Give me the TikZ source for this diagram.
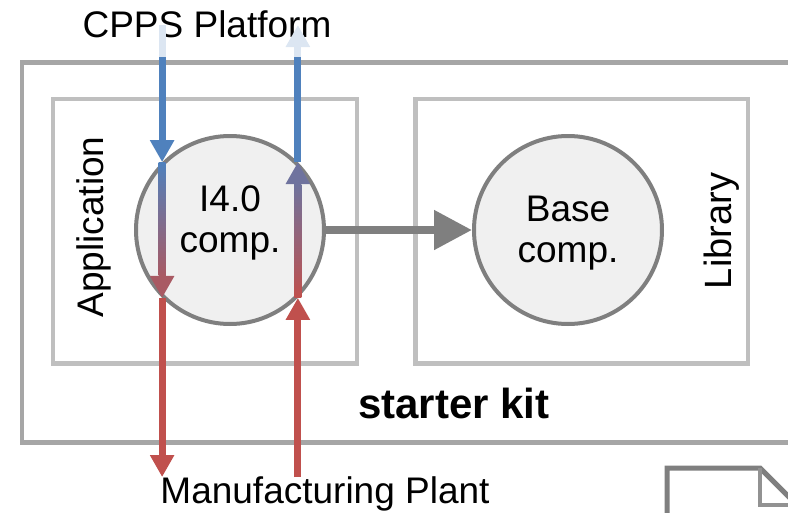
\documentclass[tikz,border=0pt]{standalone}
\usepackage{fontspec}
\setmainfont{Liberation Sans}
\usetikzlibrary{positioning,arrows.meta}
\definecolor{flowblue}{HTML}{4F81BD}
\definecolor{flowred}{HTML}{C0504D}
\definecolor{flowfade}{HTML}{DCE6F2}
\definecolor{kitgray}{HTML}{A6A6A6}
\definecolor{boxgray}{HTML}{BFBFBF}
\definecolor{compgray}{HTML}{7F7F7F}
\definecolor{compfill}{HTML}{F0F0F0}
\colorlet{flowmixb}{flowblue!72!flowred}
\colorlet{flowmixr}{flowred!80!flowblue}
\tikzset{
kitbox/.style={rectangle, draw=kitgray, line width=4.5pt, inner sep=0pt, outer sep=0pt},
partbox/.style={rectangle, draw=boxgray, line width=4.5pt, inner sep=0pt, outer sep=0pt},
comp/.style={circle, draw=compgray, fill=compfill, line width=4pt, minimum size=188pt, inner sep=0pt},
lbl/.style={font=\fontsize{37}{41}\selectfont, inner sep=0pt},
flow/.style={line width=7pt},
flowtip/.style={-{Triangle[length=22pt,width=23pt]}},
link/.style={draw=compgray, line width=8pt, -{Triangle[length=38pt,width=38pt]}},
}

\begin{document}
\begin{tikzpicture}
    [x=1pt, y=-1pt]

    \useasboundingbox (0,0) rectangle (788,512);
    \clip (0,0) rectangle (788,512);

    \node [kitbox, minimum width=800pt, minimum height=380pt, anchor=north west] (kit) at (22,62.5) {};
    \node [partbox, minimum width=304pt, minimum height=264.5pt, anchor=north west] (app) at (53,99) {};
    \node [partbox, minimum width=332.5pt, minimum height=264.5pt, anchor=north west] (lib) at (415.5,99) {};

    \node [comp] (i4) at (230,230) {};
    \node [comp] (base) [right=146pt of i4] {};

    \node [lbl, align=center] (i4lbl) at ([yshift=7pt]i4.center) {I4.0\\comp.};
    \node [lbl, align=center] (baselbl) at ([yshift=-3.5pt]base.center) {Base\\comp.};
    \node [lbl, rotate=90, anchor=base] (applbl) at (103,227) {Application};
    \node [lbl, font=\fontsize{38}{42}\selectfont, rotate=90, anchor=base] (liblbl) at (731,231) {Library};
    \node [lbl, font=\fontsize{42}{46}\selectfont\bfseries, anchor=base] (kitlbl) at (454,418) {starter kit};
    \node [lbl, anchor=base] (cpps) at (207,37) {CPPS Platform};
    \node [lbl, anchor=base] (plant) at (325,503) {Manufacturing Plant};

    % document corner
    \draw [compgray, line width=5pt, fill=white] (667,530) -- (667,468) -- (760,468) -- (797,505) -- (797,530);
    \draw [compgray!85, line width=3.5pt] (760,468) -- (760,505) -- (797,505);

    \coordinate (cppsL) at (i4.135 |- 0,25);
    \coordinate (fadeL) at (i4.135 |- 0,57);
    \coordinate (plantL) at (i4.225 |- 0,477);
    \coordinate (cppsR) at (i4.45 |- 0,25);
    \coordinate (fadeR) at (i4.45 |- 0,57);
    \coordinate (plantR) at (i4.315 |- 0,477);

    \draw [link] (i4) -- (base);

    % platform -> plant
    \draw [flow, flowfade] (cppsL) -- (fadeL);
    \draw [flow, flowtip, flowblue] (fadeL) -- (i4.135);
    \draw [flow, flowtip, flowmixr] (i4.135) -- (i4.225);
    \shade [top color=flowblue, bottom color=flowmixr] ([xshift=-3.5pt]i4.135) rectangle ([xshift=3.5pt,yshift=22pt]i4.225);
    \draw [flow, flowtip, flowred] (i4.225) -- (plantL);

    % plant -> platform
    \draw [flow, flowtip, flowred] (plantR) -- (i4.315);
    \draw [flow, flowtip, flowmixb] (i4.315) -- (i4.45);
    \shade [top color=flowmixb, bottom color=flowred] ([xshift=-3.5pt,yshift=-22pt]i4.45) rectangle ([xshift=3.5pt]i4.315);
    \draw [flow, flowblue] (i4.45) -- (fadeR);
    \draw [flow, flowtip, flowfade] (fadeR) -- (cppsR);

\end{tikzpicture}
\end{document}
